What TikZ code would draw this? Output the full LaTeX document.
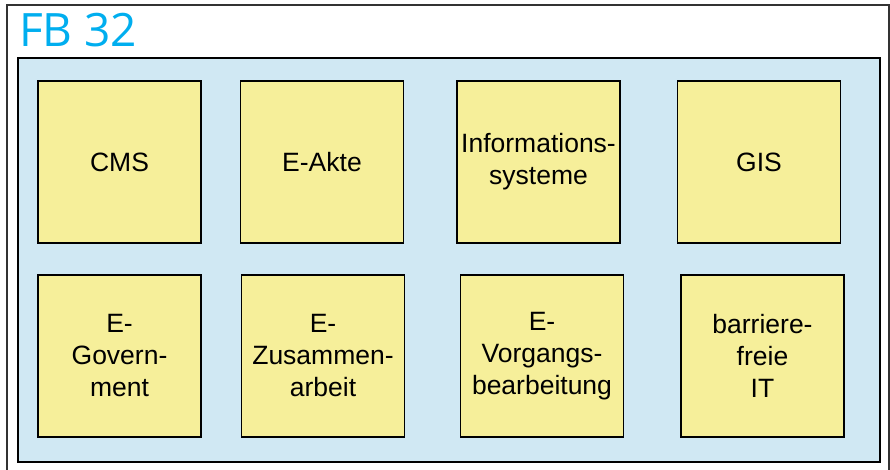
\documentclass[tikz,border=0pt]{standalone}
\usepackage{fontspec}
\setmainfont{Liberation Sans}
\newfontfamily\titlefont{Open Sans}
\definecolor{fbcyan}{RGB}{0,174,239}
\definecolor{paneblue}{RGB}{208,232,243}
\definecolor{noteyellow}{RGB}{246,239,154}

\begin{document}
\begin{tikzpicture}[x=1pt, y=-1pt]
	\tikzset{note/.style = {shape=rectangle, draw=black, line width=1.3pt, fill=noteyellow,
		minimum width=163pt, minimum height=162pt, inner sep=0pt, align=center,
		font=\fontsize{26.5}{32}\selectfont}}
	\useasboundingbox (0,0) rectangle (890,470);
	\fill[white] (0,0) rectangle (890,470);
	\draw[line width=1.5pt, black!80] (7,472) -- (7,5) -- (889,5) -- (889,472);
	\node[anchor=base west, text=fbcyan, inner sep=0pt, font=\titlefont\fontsize{46}{46}\selectfont] (title) at (19,47) {FB 32};
	\draw[line width=1.2pt, fill=paneblue] (18,58) rectangle (880,462);
	% first row
	\node[note] (cms) at (119.5,162) {CMS};
	\node[note] (akte) at (322,162) {E-Akte};
	\node[note] (info) at (538.5,162) {Informations-\\systeme};
	\node[note] (gis) at (759,162) {GIS};
	% second row
	\node[note] (egov) at (119.5,356) {E-\\Govern-\\ment};
	\node[note] (zusammen) at (323,356) {E-\\Zusammen-\\arbeit};
	\node[note] (vorgang) at (542,356) {E-\\Vorgangs-\\bearbeitung};
	\node[note] (barriere) at (762.5,356) {barriere-\\freie\\IT};
\end{tikzpicture}
\end{document}
